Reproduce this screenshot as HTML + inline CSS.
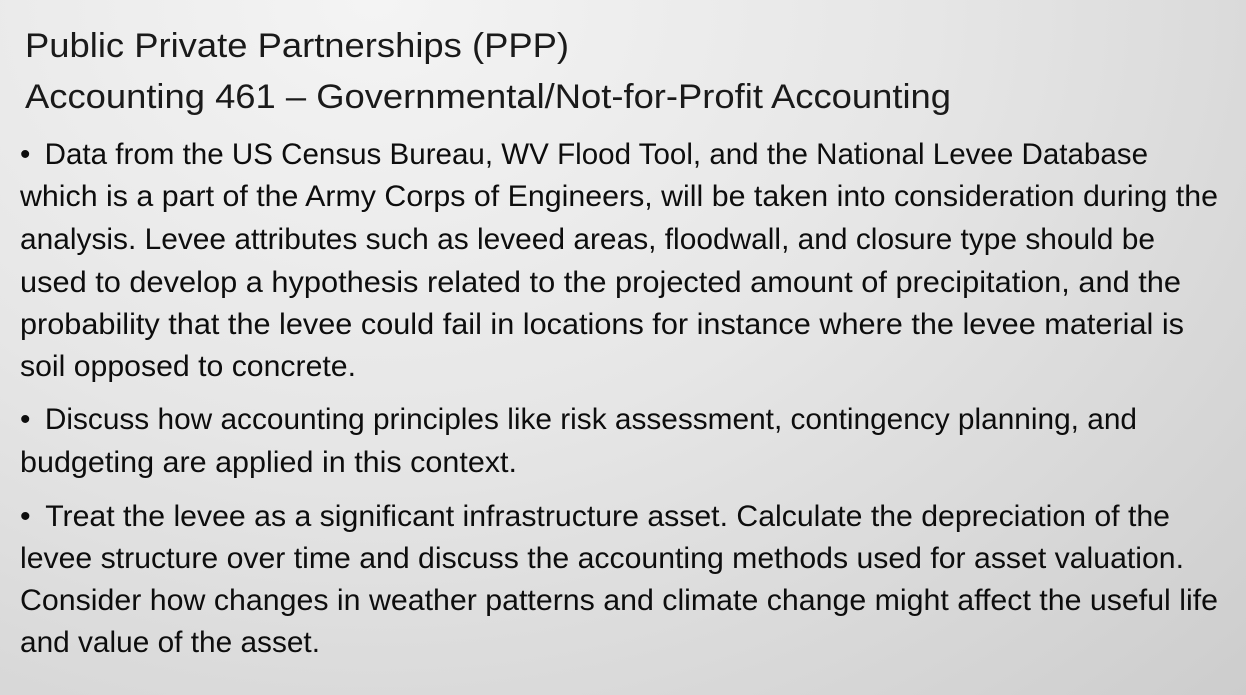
<!DOCTYPE html>
<html>
<head>
<meta charset="utf-8">
<style>
html,body{margin:0;padding:0;}
body{width:1246px;height:695px;overflow:hidden;position:relative;
background:radial-gradient(ellipse at 30% 0%, #f4f4f4 0%, #e6e6e6 45%, #cdcdcd 100%);
font-family:"Liberation Sans",Arial,sans-serif;color:#111;}
.t{position:absolute;left:25px;font-size:34px;white-space:nowrap;line-height:1;transform-origin:0 50%;color:#1a1a1a;}
.l{position:absolute;left:20px;font-size:30px;white-space:nowrap;line-height:1;transform-origin:0 50%;color:#0d0d0d;}
.b{display:inline-block;width:25px;}
</style>
</head>
<body>
<div class="t" data-r="569" style="top:29px">Public Private Partnerships (PPP)</div>
<div class="t" data-r="951" style="top:80px">Accounting 461 – Governmental/Not-for-Profit Accounting</div>

<div>
<div class="l" data-r="1148" style="top:140px"><span class="b">•</span>Data from the US Census Bureau, WV Flood Tool, and the National Levee Database</div>
<div class="l" data-r="1218" style="top:182px">which is a part of the Army Corps of Engineers, will be taken into consideration during the</div>
<div class="l" data-r="1155" style="top:225px">analysis. Levee attributes such as leveed areas, floodwall, and closure type should be</div>
<div class="l" data-r="1181" style="top:268px">used to develop a hypothesis related to the projected amount of precipitation, and the</div>
<div class="l" data-r="1184" style="top:310px">probability that the levee could fail in locations for instance where the levee material is</div>
<div class="l" data-r="356" style="top:352px">soil opposed to concrete.</div>
</div>

<div>
<div class="l" data-r="1137" style="top:405px"><span class="b">•</span>Discuss how accounting principles like risk assessment, contingency planning, and</div>
<div class="l" data-r="517" style="top:448px">budgeting are applied in this context.</div>
</div>

<div>
<div class="l" data-r="1170" style="top:502px"><span class="b">•</span>Treat the levee as a significant infrastructure asset. Calculate the depreciation of the</div>
<div class="l" data-r="1184" style="top:544px">levee structure over time and discuss the accounting methods used for asset valuation.</div>
<div class="l" data-r="1218" style="top:586px">Consider how changes in weather patterns and climate change might affect the useful life</div>
<div class="l" data-r="320" style="top:628px">and value of the asset.</div>
</div>

<script>
document.querySelectorAll('[data-r]').forEach(function(el){
  var left = parseFloat(getComputedStyle(el).left);
  var target = parseFloat(el.getAttribute('data-r')) - left;
  var w = el.getBoundingClientRect().width;
  if (w > 0) el.style.transform = 'scaleX(' + (target / w) + ')';
});
</script>
</body>
</html>
